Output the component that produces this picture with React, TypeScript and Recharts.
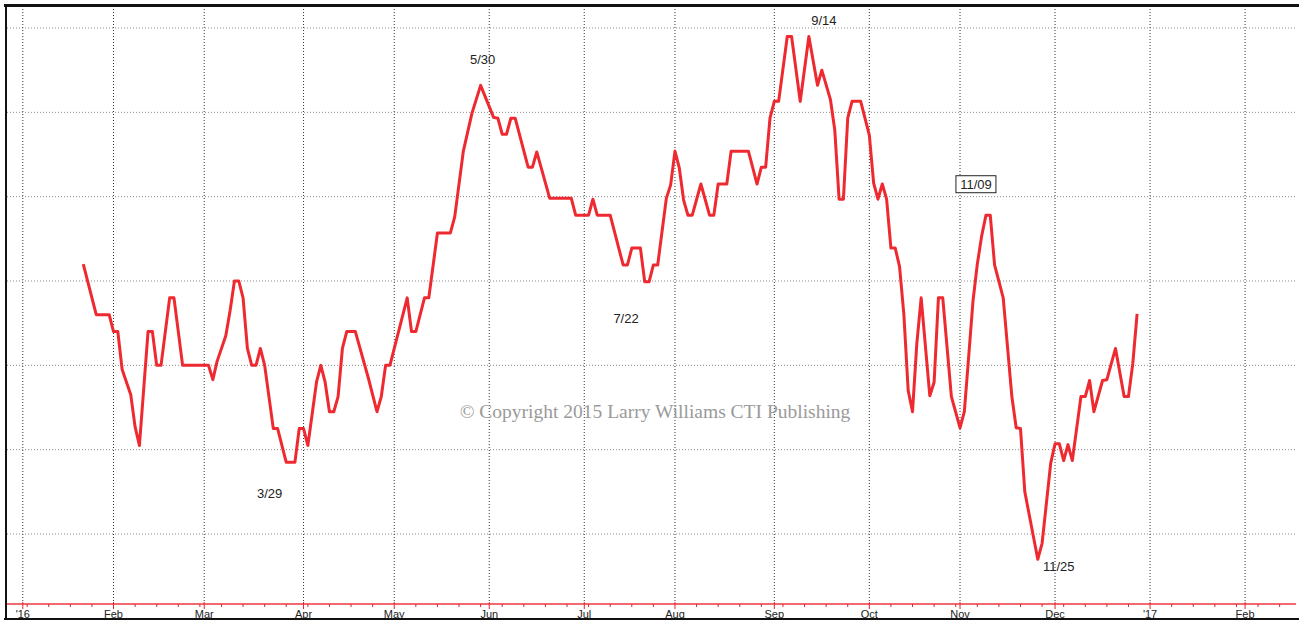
import { Line, LineChart, ReferenceDot, ReferenceLine, XAxis, YAxis } from "recharts";

// x = weekday index counted from Fri 1 Jan 2016 (weekends skipped, as the chart does)
const days = [
  14, 17, 20, 21, 22, 23, 25, 26, 27, 29, 30, 31, 32, 34, 35, 37, 43, 44, 45, 47,
  48, 49, 50, 51, 52, 53, 54, 55, 56, 58, 59, 61, 62, 63, 64, 65, 66, 68, 69, 70,
  71, 72, 73, 74, 75, 77, 80, 82, 83, 84, 85, 89, 90, 91, 93, 94, 96, 99, 100, 102,
  104, 106, 109, 110, 111, 112, 113, 114, 117, 118, 119, 122, 127, 128, 131, 132, 133, 136, 139, 140,
  141, 143, 144, 145, 146, 147, 149, 150, 151, 152, 153, 154, 155, 157, 159, 160, 161, 163, 164, 168,
  170, 171, 172, 173, 174, 175, 177, 178, 180, 182, 184, 185, 187, 188, 189, 190, 191, 192, 194, 196,
  197, 198, 199, 200, 201, 202, 203, 204, 205, 206, 207, 208, 210, 211, 212, 213, 215, 217, 218, 219,
  220, 221, 222, 223, 224, 225, 227, 229, 230, 231, 232, 235, 236, 238, 239, 240, 241, 242, 243, 245,
  246, 247, 248, 250, 251, 253, 255, 256, 257, 258,
];
const values = [
  42, 36, 36, 34, 34, 29.5, 26.5, 22.7, 20.5, 34, 34, 30, 30, 38, 38, 30, 30, 28.3, 30.5, 33.5,
  36.5, 40, 40, 38, 32, 30, 30, 32, 30, 22.5, 22.5, 18.5, 18.5, 18.5, 22.5, 22.5, 20.5, 28, 30, 28,
  24.5, 24.5, 26.3, 32, 34, 34, 28.5, 24.5, 26.3, 30, 30, 38, 34, 34, 38, 38, 45.7, 45.7, 47.6, 55.4,
  59.9, 63.2, 59.4, 59.3, 57.4, 57.4, 59.3, 59.3, 53.5, 53.5, 55.3, 49.8, 49.8, 47.8, 47.8, 49.7, 47.8, 47.8, 41.9, 41.9,
  43.9, 43.9, 39.9, 39.9, 41.9, 41.9, 49.8, 51.4, 55.4, 53.4, 49.6, 47.8, 47.8, 51.5, 47.8, 47.8, 51.5, 51.5, 55.4, 55.4,
  51.5, 53.5, 53.5, 59.3, 61.3, 61.3, 69, 69, 61.3, 69, 63.2, 65, 61.5, 57.9, 49.7, 49.7, 59.3, 61.3, 61.3, 57.3,
  51.6, 49.7, 51.5, 49.7, 43.9, 43.9, 41.7, 36, 27, 24.5, 32.6, 38, 26.4, 28, 38, 38, 26.3, 22.6, 24.5, 31,
  37.6, 42, 45.3, 47.8, 47.8, 41.9, 38, 26.3, 22.6, 22.5, 15, 7, 8.9, 18.4, 20.7, 20.7, 18.7, 20.6, 18.7, 26.3,
  26.3, 28.2, 24.5, 28.2, 28.3, 32, 26.3, 26.3, 30.2, 36.1,
];

const monthTicks = [0, 21, 42, 65, 86, 108, 130, 151, 174, 196, 217, 239, 261, 283];
const monthLabels = ["'16", "Feb", "Mar", "Apr", "May", "Jun", "Jul", "Aug", "Sep", "Oct", "Nov", "Dec", "'17", "Feb"];
const gridValues = [10, 20, 30, 40, 50, 60, 70];

const noteDays = [62, 106, 145, 182, 223, 235];
const noteLabels = ["3/29", "5/30", "7/22", "9/14", "11/09", "11/25"];

const data = days.map((d, i) => ({ day: d, value: values[i] }));

// weekly (Monday) minor ticks plus the month starts
const weekTicks: number[] = [];
for (let d = 1; d < 295; d += 5) weekTicks.push(d);
const allTicks = Array.from(new Set([...monthTicks, ...weekTicks])).sort((a, b) => a - b);

// label placement relative to the marked point
const noteOffsets: Record<string, [number, number]> = {
  "3/29": [-21, 31],
  "5/30": [2, -26],
  "7/22": [-23, 36],
  "9/14": [15, -16],
  "11/09": [-10, -31],
  "11/25": [21, 7],
};

const RED = "#ee2a30";

function AxisTick(props: any) {
  const { x, y, payload } = props;
  const i = monthTicks.indexOf(payload.value);
  const major = i >= 0;
  return (
    <g>
      <line x1={x} x2={x} y1={major ? y - 2 : y} y2={major ? y + 5 : y + 3} stroke="#e3242c" strokeWidth={1} />
      {major && (
        <text x={x} y={y + 14} textAnchor="middle" fontSize={11} fill="#222" fontFamily="Liberation Sans, Arial, sans-serif">
          {monthLabels[i]}
        </text>
      )}
    </g>
  );
}

function NoteShape(label: string) {
  return (props: any) => {
    const [dx, dy] = noteOffsets[label];
    const cx = props.cx + dx;
    const cy = props.cy + dy;
    const boxed = label === "11/09";
    return (
      <g>
        {boxed && <rect x={cx - 20} y={cy - 8.5} width={40} height={17} fill="#fff" stroke="#222" strokeWidth={1} />}
        <text x={cx} y={cy} dy="0.36em" textAnchor="middle" fontSize={13} fill="#222" fontFamily="Liberation Sans, Arial, sans-serif">
          {label}
        </text>
      </g>
    );
  };
}

export default function App() {
  return (
    <div style={{ position: "absolute", left: 0, top: 0, width: 1299, height: 620, background: "#fff", overflow: "hidden" }}>
      <LineChart width={1299} height={620} data={data} margin={{ top: 7, right: 3, bottom: 0, left: 7 }}>
        <XAxis
          dataKey="day"
          type="number"
          domain={[-3.66, 294.79]}
          allowDataOverflow
          ticks={allTicks}
          interval={0}
          height={16}
          tickSize={0}
          tickMargin={0}
          tickLine={false}
          tick={<AxisTick />}
          axisLine={{ stroke: "#f06a70", strokeWidth: 2 }}
        />
        <YAxis hide type="number" domain={[1.7, 72.49]} allowDataOverflow />
        {gridValues.map((v) => (
          <ReferenceLine key={`h${v}`} y={v} stroke="#8a8a8a" strokeDasharray="1 2" />
        ))}
        {monthTicks.map((t) => (
          <ReferenceLine key={`v${t}`} x={t} stroke="#333" strokeDasharray="1 2" />
        ))}
        <Line
          type="linear"
          dataKey="value"
          stroke={RED}
          strokeWidth={3}
          strokeLinejoin="round"
          dot={false}
          isAnimationActive={false}
        />
        {noteDays.map((d, i) => {
          const idx = days.indexOf(d);
          return (
            <ReferenceDot key={noteLabels[i]} x={d} y={values[idx]} r={0} shape={NoteShape(noteLabels[i])} />
          );
        })}
      </LineChart>
      <svg width={1299} height={620} style={{ position: "absolute", left: 0, top: 0, pointerEvents: "none" }}>
        <text x={655} y={418} textAnchor="middle" fontSize={19.5} fill="#9a9a9a" fontFamily="Liberation Serif, Times New Roman, serif">
          © Copyright 2015 Larry Williams CTI Publishing
        </text>
        <line x1={4} x2={1299} y1={5.5} y2={5.5} stroke="#111" strokeWidth={3} />
        <line x1={6} x2={6} y1={4} y2={620} stroke="#111" strokeWidth={2} />
        <line x1={4} x2={1299} y1={619} y2={619} stroke="#111" strokeWidth={2} />
      </svg>
    </div>
  );
}
